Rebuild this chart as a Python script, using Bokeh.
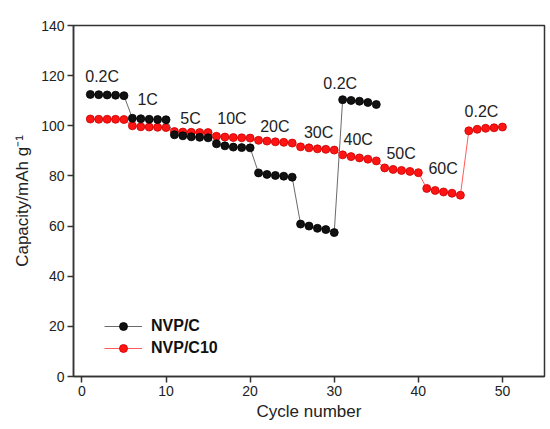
from bokeh.plotting import figure
from bokeh.models import Range1d, Legend, LegendItem, ColumnDataSource
from bokeh.core.properties import value
from bokeh.embed import file_html
from bokeh.resources import INLINE

cycles_c = list(range(1, 36))
cap_c = [112.5, 112.4, 112.3, 112.2, 112.0,
         103.0, 102.8, 102.6, 102.5, 102.4,
         96.4, 96.0, 95.6, 95.4, 95.2,
         92.8, 92.0, 91.5, 91.3, 91.2,
         81.2, 80.6, 80.2, 79.9, 79.5,
         60.8, 60.0, 59.1, 58.6, 57.4,
         110.4, 110.1, 109.8, 109.3, 108.5]

cycles_c10 = list(range(1, 51))
cap_c10 = [102.7, 102.6, 102.6, 102.6, 102.5,
           100.0, 99.6, 99.5, 99.4, 99.3,
           97.7, 97.5, 97.4, 97.3, 97.3,
           95.8, 95.5, 95.3, 95.2, 95.1,
           94.2, 93.9, 93.6, 93.4, 93.1,
           91.6, 91.2, 90.8, 90.6, 90.3,
           88.4, 87.7, 87.2, 86.7, 86.0,
           83.2, 82.6, 82.2, 81.8, 81.3,
           75.0, 74.2, 73.6, 73.1, 72.3,
           98.0, 98.6, 99.0, 99.2, 99.5]

rate_labels = ["0.2C", "1C", "5C", "10C", "20C", "30C", "0.2C", "40C", "50C", "60C", "0.2C"]
rate_x = [0.4, 6.6, 11.7, 16.1, 21.2, 26.4, 28.7, 31.1, 36.2, 41.2, 45.5]
rate_y = [119.8, 110.3, 102.9, 102.9, 99.7, 97.4, 117.0, 94.5, 88.9, 83.0, 105.5]

x_ticks = [0, 10, 20, 30, 40, 50]
y_ticks = [0, 20, 40, 60, 80, 100, 120, 140]

FONT = "Liberation Sans"

p = figure(width=546, height=423, output_backend="svg", toolbar_location=None,
           x_range=Range1d(-1, 55), y_range=Range1d(0, 140),
           min_border_left=73, min_border_top=25, min_border_right=2, min_border_bottom=45)
p.grid.visible = False
p.outline_line_color = "#333333"
p.outline_line_width = 1.5
p.background_fill_color = "white"
p.border_fill_color = "white"

for ax in (p.xaxis[0], p.yaxis[0]):
    ax.axis_line_color = "#333333"
    ax.axis_line_width = 1.5
    ax.major_tick_line_color = "#333333"
    ax.minor_tick_line_color = "#333333"
    ax.major_tick_line_width = 1.5
    ax.minor_tick_line_width = 1.2
    ax.major_tick_in = 0
    ax.minor_tick_in = 0
    ax.major_tick_out = 6
    ax.minor_tick_out = 4
    ax.major_label_text_font = FONT
    ax.major_label_text_font_size = "14px"
    ax.major_label_text_color = "#222222"
    ax.axis_label_text_font = FONT
    ax.axis_label_text_font_size = "17px"
    ax.axis_label_text_font_style = "normal"
    ax.axis_label_text_color = "#222222"

p.xaxis.ticker = x_ticks
p.xaxis[0].ticker.num_minor_ticks = 2
p.yaxis.ticker = y_ticks
p.yaxis[0].ticker.num_minor_ticks = 2
p.xaxis.axis_label = "Cycle number"
p.yaxis.axis_label = "Capacity/mAh g\u207b\u00b9"
p.xaxis.major_label_standoff = 3
p.yaxis.major_label_standoff = 3
p.xaxis.axis_label_standoff = 3
p.yaxis.axis_label_standoff = 6

src_c = ColumnDataSource(dict(x=cycles_c, y=cap_c))
src_c10 = ColumnDataSource(dict(x=cycles_c10, y=cap_c10))

l2 = p.line("x", "y", source=src_c10, line_color="#ff5a5a", line_width=1)
s2 = p.scatter("x", "y", source=src_c10, size=8, fill_color="#ff1414", line_color="#c80000", line_width=0.8)
l1 = p.line("x", "y", source=src_c, line_color="#6a6a6a", line_width=1)
s1 = p.scatter("x", "y", source=src_c, size=8, fill_color="#111111", line_color="#000000", line_width=0.8)

p.text(x=rate_x, y=rate_y, text=rate_labels, text_font=value(FONT), text_font_size="16px",
       text_color="#222222", text_align="left", text_baseline="middle")

legend = Legend(items=[LegendItem(label="NVP/C", renderers=[l1, s1]),
                       LegendItem(label="NVP/C10", renderers=[l2, s2])],
                location=(31, 18), orientation="vertical")
legend.border_line_color = None
legend.background_fill_alpha = 0
legend.label_text_font = FONT
legend.label_text_font_size = "16px"
legend.label_text_font_style = "bold"
legend.label_text_color = "#111111"
legend.glyph_width = 38
legend.glyph_height = 20
legend.spacing = 2
legend.label_standoff = 9
legend.padding = 4
p.add_layout(legend)

open("out.html", "w").write(file_html(p, INLINE))
